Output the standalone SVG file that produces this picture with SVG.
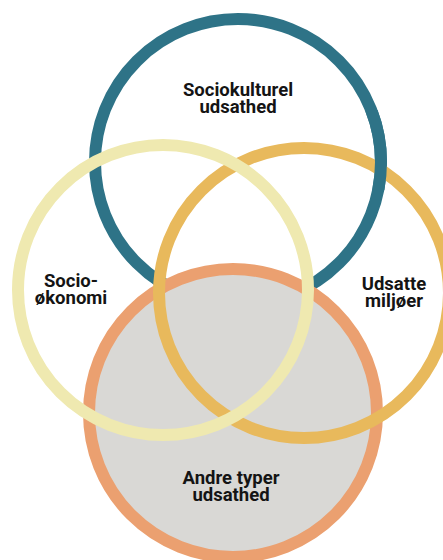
<svg xmlns="http://www.w3.org/2000/svg" width="443" height="560" viewBox="0 0 443 560">
  <style>
    .ring { fill: none; stroke-width: 12; }
    .lbl { font-family: Roboto, "Liberation Sans", Arial, sans-serif; font-weight: 700; font-size: 18.5px; fill: #141414; text-anchor: middle; }
  </style>
  <defs>
    <clipPath id="tealOver">
      <rect x="345" y="110" width="70" height="80"/>
    </clipPath>
  </defs>
  <rect width="443" height="560" fill="#ffffff"/>
  <g id="node-sociokulturel">
    <circle id="teal-ring" class="ring" cx="238" cy="162" r="143" stroke="#2e7387"/>
    <text class="lbl" x="238" y="96">Sociokulturel</text>
    <text class="lbl" x="238" y="113">udsathed</text>
  </g>
  <g id="node-andre">
    <circle cx="233" cy="413" r="144" fill="#d9d8d5" stroke="#eba070" stroke-width="12"/>
    <text class="lbl" x="231" y="484">Andre typer</text>
    <text class="lbl" x="231" y="501">udsathed</text>
  </g>
  <g id="node-udsatte">
    <circle class="ring" cx="304" cy="293" r="145" stroke="#e8b95c"/>
    <text class="lbl" x="394" y="290">Udsatte</text>
    <text class="lbl" x="394" y="307">miljøer</text>
  </g>
  <use href="#teal-ring" clip-path="url(#tealOver)"/>
  <g id="node-socio">
    <circle class="ring" cx="163" cy="290" r="145" stroke="#efe9b0"/>
    <text class="lbl" x="71" y="287">Socio-</text>
    <text class="lbl" x="71" y="304">økonomi</text>
  </g>
</svg>
